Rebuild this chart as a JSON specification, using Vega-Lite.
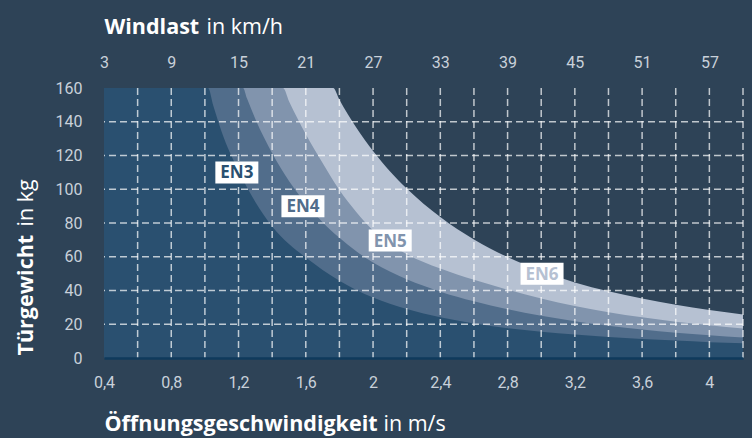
{
  "$schema": "https://vega.github.io/schema/vega-lite/v6.json",
  "width": 639,
  "height": 270,
  "autosize": {"type": "none"},
  "padding": {"left": 104, "top": 88, "right": 9, "bottom": 80},
  "background": "#2e4357",
  "config": {"view": {"stroke": null}},
  "datasets": {
    "curves": [
      {"cls": "EN6", "v": 0.4, "w": 160}, {"cls": "EN6", "v": 1.763, "w": 160}, {"cls": "EN6", "v": 1.8, "w": 153.1}, {"cls": "EN6", "v": 1.85, "w": 144.5}, {"cls": "EN6", "v": 1.9, "w": 136.6}, {"cls": "EN6", "v": 1.95, "w": 129.4}, {"cls": "EN6", "v": 2.0, "w": 122.7}, {"cls": "EN6", "v": 2.1, "w": 110.7}, {"cls": "EN6", "v": 2.2, "w": 100.4}, {"cls": "EN6", "v": 2.4, "w": 83.5}, {"cls": "EN6", "v": 2.6, "w": 70.2}, {"cls": "EN6", "v": 2.8, "w": 59.8}, {"cls": "EN6", "v": 3.0, "w": 51.5}, {"cls": "EN6", "v": 3.2, "w": 44.8}, {"cls": "EN6", "v": 3.4, "w": 39.6}, {"cls": "EN6", "v": 3.6, "w": 35.3}, {"cls": "EN6", "v": 3.8, "w": 31.6}, {"cls": "EN6", "v": 4.0, "w": 28.5}, {"cls": "EN6", "v": 4.2, "w": 25.8},
      {"cls": "EN5", "v": 0.4, "w": 160}, {"cls": "EN5", "v": 1.465, "w": 160}, {"cls": "EN5", "v": 1.5, "w": 152.2}, {"cls": "EN5", "v": 1.55, "w": 142.1}, {"cls": "EN5", "v": 1.6, "w": 132.6}, {"cls": "EN5", "v": 1.65, "w": 123.8}, {"cls": "EN5", "v": 1.7, "w": 115.5}, {"cls": "EN5", "v": 1.8, "w": 99.5}, {"cls": "EN5", "v": 1.9, "w": 86.5}, {"cls": "EN5", "v": 2.0, "w": 75.5}, {"cls": "EN5", "v": 2.1, "w": 67.5}, {"cls": "EN5", "v": 2.2, "w": 61.5}, {"cls": "EN5", "v": 2.4, "w": 53}, {"cls": "EN5", "v": 2.6, "w": 46.3}, {"cls": "EN5", "v": 2.8, "w": 40.5}, {"cls": "EN5", "v": 3.0, "w": 35.2}, {"cls": "EN5", "v": 3.2, "w": 30.8}, {"cls": "EN5", "v": 3.4, "w": 27.1}, {"cls": "EN5", "v": 3.6, "w": 24.1}, {"cls": "EN5", "v": 3.8, "w": 21.5}, {"cls": "EN5", "v": 4.0, "w": 19.4}, {"cls": "EN5", "v": 4.2, "w": 17.5},
      {"cls": "EN4", "v": 0.4, "w": 160}, {"cls": "EN4", "v": 1.227, "w": 160}, {"cls": "EN4", "v": 1.25, "w": 153.9}, {"cls": "EN4", "v": 1.3, "w": 141.7}, {"cls": "EN4", "v": 1.35, "w": 130.9}, {"cls": "EN4", "v": 1.4, "w": 121.3}, {"cls": "EN4", "v": 1.5, "w": 104.9}, {"cls": "EN4", "v": 1.6, "w": 91.6}, {"cls": "EN4", "v": 1.7, "w": 80.5}, {"cls": "EN4", "v": 1.8, "w": 71.2}, {"cls": "EN4", "v": 1.9, "w": 63.3}, {"cls": "EN4", "v": 2.0, "w": 56.6}, {"cls": "EN4", "v": 2.1, "w": 51.2}, {"cls": "EN4", "v": 2.2, "w": 46.6}, {"cls": "EN4", "v": 2.4, "w": 39.3}, {"cls": "EN4", "v": 2.6, "w": 33.6}, {"cls": "EN4", "v": 2.8, "w": 28.9}, {"cls": "EN4", "v": 3.0, "w": 25.0}, {"cls": "EN4", "v": 3.2, "w": 21.8}, {"cls": "EN4", "v": 3.4, "w": 19.1}, {"cls": "EN4", "v": 3.6, "w": 16.9}, {"cls": "EN4", "v": 3.8, "w": 15.0}, {"cls": "EN4", "v": 4.0, "w": 13.5}, {"cls": "EN4", "v": 4.2, "w": 12.2},
      {"cls": "EN3", "v": 0.4, "w": 160}, {"cls": "EN3", "v": 1.019, "w": 160}, {"cls": "EN3", "v": 1.05, "w": 149.5}, {"cls": "EN3", "v": 1.1, "w": 134}, {"cls": "EN3", "v": 1.2, "w": 111}, {"cls": "EN3", "v": 1.3, "w": 92.5}, {"cls": "EN3", "v": 1.4, "w": 78}, {"cls": "EN3", "v": 1.5, "w": 67.5}, {"cls": "EN3", "v": 1.6, "w": 59.5}, {"cls": "EN3", "v": 1.7, "w": 52.2}, {"cls": "EN3", "v": 1.8, "w": 45.8}, {"cls": "EN3", "v": 1.9, "w": 40.3}, {"cls": "EN3", "v": 2.0, "w": 35.8}, {"cls": "EN3", "v": 2.1, "w": 32.2}, {"cls": "EN3", "v": 2.2, "w": 29.1}, {"cls": "EN3", "v": 2.4, "w": 24.1}, {"cls": "EN3", "v": 2.6, "w": 20.4}, {"cls": "EN3", "v": 2.8, "w": 17.7}, {"cls": "EN3", "v": 3.0, "w": 15.6}, {"cls": "EN3", "v": 3.2, "w": 13.9}, {"cls": "EN3", "v": 3.4, "w": 12.5}, {"cls": "EN3", "v": 3.6, "w": 11.3}, {"cls": "EN3", "v": 3.8, "w": 10.3}, {"cls": "EN3", "v": 4.0, "w": 9.4}, {"cls": "EN3", "v": 4.2, "w": 8.7}
    ],
    "labels": [
      {"cls": "EN3", "v": 1.19, "w": 110},
      {"cls": "EN4", "v": 1.583, "w": 90},
      {"cls": "EN5", "v": 2.102, "w": 69.6},
      {"cls": "EN6", "v": 3.005, "w": 49.9}
    ],
    "gridx": [{"g": 0.6}, {"g": 0.8}, {"g": 1.0}, {"g": 1.2}, {"g": 1.4}, {"g": 1.6}, {"g": 1.8}, {"g": 2.0}, {"g": 2.2}, {"g": 2.4}, {"g": 2.6}, {"g": 2.8}, {"g": 3.0}, {"g": 3.2}, {"g": 3.4}, {"g": 3.6}, {"g": 3.8}, {"g": 4.0}, {"g": 4.2}],
    "gridy": [{"g": 20}, {"g": 40}, {"g": 60}, {"g": 80}, {"g": 100}, {"g": 120}, {"g": 140}]
  },
  "resolve": {"axis": {"x": "independent", "y": "independent"}},
  "layer": [
    {
      "data": {"name": "curves"},
      "transform": [{"filter": "datum.cls == 'EN6'"}],
      "mark": {"type": "area", "interpolate": "monotone", "opacity": 1},
      "encoding": {
        "x": {"field": "v", "type": "quantitative", "scale": {"domain": [0.4, 4.2], "nice": false, "zero": false},
          "axis": {"orient": "bottom", "values": [0.4, 0.8, 1.2, 1.6, 2, 2.4, 2.8, 3.2, 3.6, 4], "labelExpr": "replace(format(datum.value, '.1~f'), '.', ',')", "grid": false, "ticks": false, "domain": true, "domainColor": "#0f3a5c", "domainWidth": 2.5, "labelFlush": false, "labelPadding": 16, "labelFont": "Roboto", "labelFontSize": 16, "labelColor": "#c9d1da", "title": "Öffnungsgeschwindigkeit", "titleFont": "Open Sans", "titleFontWeight": "bold", "titleFontSize": 21.5, "titleColor": "#ffffff", "titleX": 0, "titleY": 72, "titleAlign": "left", "titleBaseline": "alphabetic", "zindex": 1}},
        "y": {"field": "w", "type": "quantitative", "stack": null, "scale": {"domain": [0, 160], "nice": false},
          "axis": {"orient": "left", "values": [0, 20, 40, 60, 80, 100, 120, 140, 160], "grid": false, "ticks": false, "domain": false, "labelPadding": 22, "labelFont": "Roboto", "labelFontSize": 16, "labelColor": "#c9d1da", "title": "Türgewicht", "titleFont": "Open Sans", "titleFontWeight": "bold", "titleFontSize": 21.5, "titleColor": "#ffffff", "titleX": -72, "titleY": 267, "titleAngle": 270, "titleAlign": "left", "titleBaseline": "alphabetic"}},
        "color": {"field": "cls", "type": "nominal", "scale": {"domain": ["EN3", "EN4", "EN5", "EN6"], "range": ["#2a5070", "#516d8b", "#8194ad", "#b6c1d2"]}, "legend": null}
      }
    },
    {
      "data": {"name": "curves"},
      "transform": [{"filter": "datum.cls == 'EN5'"}],
      "mark": {"type": "area", "interpolate": "monotone", "opacity": 1},
      "encoding": {
        "x": {"field": "v", "type": "quantitative",
          "axis": {"orient": "bottom", "labels": false, "ticks": false, "domain": false, "grid": false, "title": "in m/s", "titleFont": "Open Sans", "titleFontWeight": "normal", "titleFontSize": 21.5, "titleColor": "#ffffff", "titleX": 279, "titleY": 72, "titleAlign": "left", "titleBaseline": "alphabetic"}},
        "y": {"field": "w", "type": "quantitative", "stack": null,
          "axis": {"orient": "left", "labels": false, "ticks": false, "domain": false, "grid": false, "title": "in kg", "titleFont": "Open Sans", "titleFontWeight": "normal", "titleFontSize": 21.5, "titleColor": "#ffffff", "titleX": -72, "titleY": 138, "titleAngle": 270, "titleAlign": "left", "titleBaseline": "alphabetic"}},
        "color": {"field": "cls", "type": "nominal", "legend": null}
      }
    },
    {
      "data": {"name": "curves"},
      "transform": [{"filter": "datum.cls == 'EN4'"}],
      "mark": {"type": "area", "interpolate": "monotone", "opacity": 1},
      "encoding": {
        "x": {"field": "v", "type": "quantitative",
          "axis": {"orient": "top", "values": [0.4, 0.8, 1.2, 1.6, 2, 2.4, 2.8, 3.2, 3.6, 4], "labelExpr": "format(3 + (datum.value - 0.4) * 15, 'd')", "grid": false, "ticks": false, "domain": false, "labelFlush": false, "labelPadding": 18, "labelFont": "Roboto", "labelFontSize": 16, "labelColor": "#c9d1da", "title": "Windlast", "titleFont": "Open Sans", "titleFontWeight": "bold", "titleFontSize": 21.5, "titleColor": "#ffffff", "titleX": 0, "titleY": -55, "titleAlign": "left", "titleBaseline": "alphabetic"}},
        "y": {"field": "w", "type": "quantitative", "stack": null, "axis": null},
        "color": {"field": "cls", "type": "nominal", "legend": null}
      }
    },
    {
      "data": {"name": "curves"},
      "transform": [{"filter": "datum.cls == 'EN3'"}],
      "mark": {"type": "area", "interpolate": "monotone", "opacity": 1},
      "encoding": {
        "x": {"field": "v", "type": "quantitative",
          "axis": {"orient": "top", "labels": false, "ticks": false, "domain": false, "grid": false, "title": "in km/h", "titleFont": "Open Sans", "titleFontWeight": "normal", "titleFontSize": 21.5, "titleColor": "#ffffff", "titleX": 102, "titleY": -55, "titleAlign": "left", "titleBaseline": "alphabetic"}},
        "y": {"field": "w", "type": "quantitative", "stack": null, "axis": null},
        "color": {"field": "cls", "type": "nominal", "legend": null}
      }
    },
    {
      "data": {"name": "gridx"},
      "mark": {"type": "rule", "color": "#ffffff", "opacity": 0.7, "strokeWidth": 1.5, "strokeDash": [7, 4]},
      "encoding": {"x": {"field": "g", "type": "quantitative", "axis": null}}
    },
    {
      "data": {"name": "gridy"},
      "mark": {"type": "rule", "color": "#ffffff", "opacity": 0.7, "strokeWidth": 1.5, "strokeDash": [7, 4]},
      "encoding": {"y": {"field": "g", "type": "quantitative", "axis": null}}
    },
    {
      "data": {"name": "labels"},
      "mark": {"type": "rect", "width": 43, "height": 22, "color": "#ffffff"},
      "encoding": {
        "x": {"field": "v", "type": "quantitative", "axis": null},
        "y": {"field": "w", "type": "quantitative", "axis": null}
      }
    },
    {
      "data": {"name": "labels"},
      "mark": {"type": "text", "font": "Open Sans", "fontWeight": "bold", "fontSize": 17, "align": "center", "baseline": "middle", "dy": 1},
      "encoding": {
        "x": {"field": "v", "type": "quantitative", "axis": null},
        "y": {"field": "w", "type": "quantitative", "axis": null},
        "text": {"field": "cls"},
        "color": {"field": "cls", "type": "nominal", "legend": null}
      }
    }
  ]
}
